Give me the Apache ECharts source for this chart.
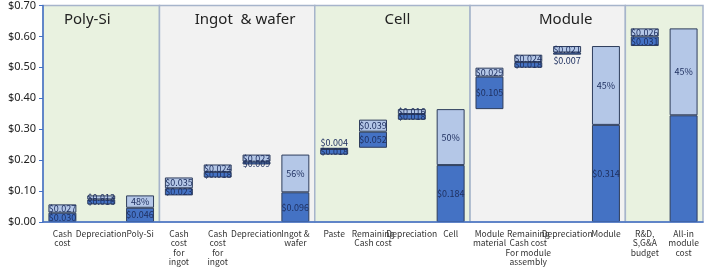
<!DOCTYPE html>
<html>
<head>
<meta charset="utf-8">
<script src="https://cdn.jsdelivr.net/npm/echarts@6/dist/echarts.min.js"></script>
<style>
  html, body { margin: 0; padding: 0; background: #fff; }
  #chart { width: 717px; height: 267px; }
</style>
</head>
<body>
<div id="chart"></div>
<script>
const categories = ['Cash\ncost', 'Depreciation', 'Poly-Si', 'Cash\ncost\nfor\ningot', 'Cash\ncost\nfor\ningot',
  'Depreciation', 'Ingot &\nwafer', 'Paste', 'Remaining\nCash cost', 'Depreciation', 'Cell', 'Module\nmaterial',
  'Remaining\nCash cost\nFor module\nassembly', 'Depreciation', 'Module', 'R&D,\nS,G&A\nbudget', 'All-in\nmodule\ncost']
const darkValues = [0.030, 0.016, 0.046, 0.023, 0.018, 0.009, 0.096, 0.018, 0.052, 0.018, 0.184, 0.105, 0.018, 0.007, 0.314, 0.031, 0.345]
const lightValues = [0.027, 0.013, 0.040, 0.035, 0.024, 0.023, 0.122, 0.004, 0.039, 0.016, 0.181, 0.029, 0.024, 0.021, 0.255, 0.026, 0.281]
const isTotal = [0, 0, 1, 0, 0, 0, 1, 0, 0, 0, 1, 0, 0, 0, 1, 0, 1]
const totalShares = ['48%', '56%', '50%', '45%', '45%']
const darkLabels = ['$0.030', '$0.016', '$0.046', '$0.023', '$0.018', '$0.009', '$0.096', '$0.018', '$0.052', '$0.018',
  '$0.184', '$0.105', '$0.018', '$0.007', '$0.314', '$0.031', '']
// stage name, first and last category slot
const stageNames = ['Poly-Si', 'Ingot  & wafer', 'Cell', 'Module', '']
const stageFrom = [0, 3, 7, 11, 15]
const stageTo = [3, 7, 11, 15, 17]
const yTicks = [0, 0.1, 0.2, 0.3, 0.4, 0.5, 0.6, 0.7]

const stageColors = ['#e9f2e0', '#f2f2f2', '#e9f2e0', '#f2f2f2', '#e9f2e0']
const stageTitleShift = [-14, 8, 5, 18, 0]

// waterfall base = running total of step bars, totals start at 0
const base = []
let running = 0
categories.forEach((c, i) => {
  if (isTotal[i]) {
    base.push(0)
  } else {
    base.push(+running.toFixed(3))
    running += darkValues[i] + lightValues[i]
  }
})

let shareIdx = 0
const lightLabels = lightValues.map((v, i) => isTotal[i] ? totalShares[shareIdx++] : '$' + v.toFixed(3))

const font = 'Noto Sans'
const smallFont = 'Noto Sans CJK KR'
const labelColor = '#1f3060'
const chart = echarts.init(document.getElementById('chart'))

chart.setOption({
  animation: false,
  textStyle: { fontFamily: font },
  grid: { left: 43, right: 14, top: 5, bottom: 42 },
  xAxis: [
    {
      type: 'category',
      data: categories,
      axisLine: { lineStyle: { color: '#4472c4', width: 1.5 } },
      axisTick: { show: false },
      axisLabel: { interval: 0, fontSize: 8.5, lineHeight: 9.5, color: '#333', margin: 7, fontFamily: smallFont },
      z: 5,
    },
    { type: 'value', min: 0, max: 17, show: false },
  ],
  yAxis: {
    type: 'value',
    min: yTicks[0],
    max: yTicks[yTicks.length - 1],
    interval: 0.1,
    axisLine: { show: true, lineStyle: { color: '#4472c4', width: 1.5 } },
    axisTick: { show: true, length: 4, lineStyle: { color: '#4472c4' } },
    axisLabel: { fontSize: 11, color: '#222', formatter: v => '$' + v.toFixed(2), margin: 7 },
    splitLine: { show: false },
    z: 5,
  },
  series: [
    {
      type: 'scatter',
      xAxisIndex: 1,
      data: [[0, 0]],
      symbolSize: 0,
      silent: true,
      z: 0,
      markArea: {
        silent: true,
        data: stageNames.map((name, i) => [
          {
            xAxis: stageFrom[i], yAxis: 0.7, name,
            itemStyle: { color: stageColors[i], borderColor: '#a6b4cb', borderWidth: 1.5 },
            label: { offset: [stageTitleShift[i], 0] },
          },
          { xAxis: stageTo[i], yAxis: 0 },
        ]),
        label: { show: true, position: 'insideTop', distance: 7, fontSize: 15, color: '#222', fontFamily: font },
      },
    },
    {
      type: 'bar',
      stack: 'wf',
      data: base,
      barWidth: '72%',
      itemStyle: { color: 'transparent' },
      silent: true,
      z: 2,
    },
    {
      type: 'bar',
      stack: 'wf',
      data: darkValues.map((v, i) => ({
        value: v,
        label: i === 13 ? { position: 'bottom', distance: 1 } : undefined,
      })),
      itemStyle: { color: '#4472c4', borderColor: '#2e3d5c', borderWidth: 1 },
      label: {
        show: true,
        position: 'inside',
        fontSize: 9,
        fontFamily: smallFont,
        color: labelColor,
        formatter: p => darkLabels[p.dataIndex],
      },
      z: 2,
    },
    {
      type: 'bar',
      stack: 'wf',
      data: lightValues.map((v, i) => ({
        value: v,
        label: i === 7 ? { position: 'top', distance: 1 } : undefined,
      })),
      itemStyle: { color: '#b4c7e7', borderColor: '#2e3d5c', borderWidth: 1 },
      label: {
        show: true,
        position: 'inside',
        fontSize: 9,
        fontFamily: smallFont,
        color: labelColor,
        formatter: p => lightLabels[p.dataIndex],
      },
      z: 2,
    },
  ],
})
</script>
</body>
</html>
